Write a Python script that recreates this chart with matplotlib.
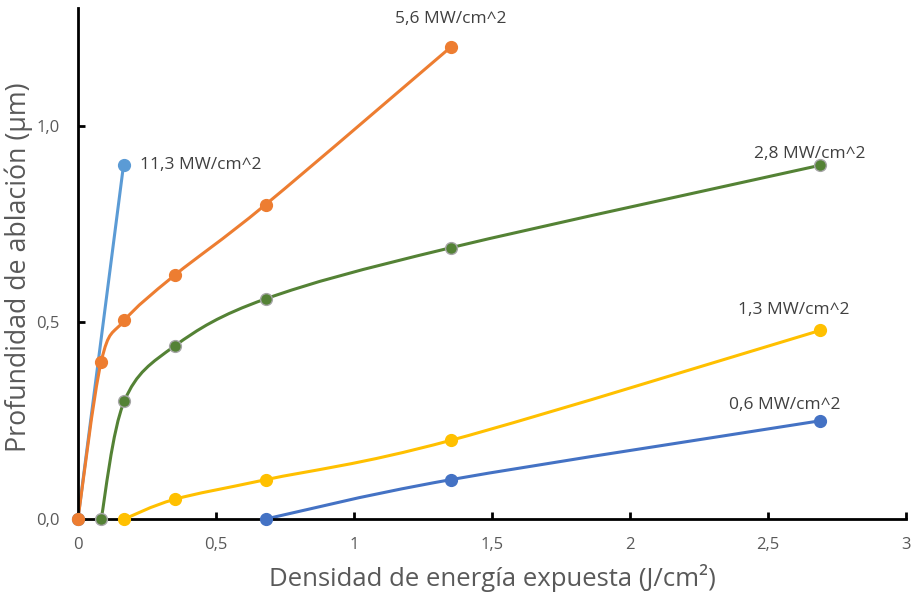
import numpy as np
import matplotlib
matplotlib.use("Agg")
import matplotlib.pyplot as plt
from matplotlib.path import Path
from matplotlib.patches import PathPatch
from matplotlib.ticker import FuncFormatter, MultipleLocator

plt.rcParams["font.family"] = ["Open Sans", "DejaVu Sans"]

# data (x: J/cm^2, y: um)
x_113 = [0.0, 0.165]
y_113 = [0.0, 0.90]

x_56 = [0.0, 0.084, 0.168, 0.35, 0.68, 1.35]
y_56 = [0.0, 0.40, 0.505, 0.62, 0.80, 1.20]

x_28 = [0.084, 0.168, 0.35, 0.68, 1.35, 2.69]
y_28 = [0.0, 0.30, 0.44, 0.56, 0.69, 0.90]

x_13 = [0.168, 0.35, 0.68, 1.35, 2.69]
y_13 = [0.0, 0.05, 0.10, 0.20, 0.48]

x_06 = [0.68, 1.35, 2.69]
y_06 = [0.0, 0.10, 0.25]

labels = ["11,3 MW/cm^2", "5,6 MW/cm^2", "2,8 MW/cm^2", "1,3 MW/cm^2", "0,6 MW/cm^2"]

series = [
    (x_113, y_113, "#5B9BD5", None, labels[0], (16, 0), "left"),
    (x_56, y_56, "#ED7D31", None, labels[1], (0, 28), "center"),
    (x_28, y_28, "#548235", "#A5A5A5", labels[2], (-11, 11), "center"),
    (x_13, y_13, "#FFC000", None, labels[3], (-27, 20), "center"),
    (x_06, y_06, "#4472C4", None, labels[4], (-36, 16), "center"),
]


def smooth_path(xs, ys):
    # Excel-like smoothed line: cubic bezier through the points
    p = np.column_stack([xs, ys])
    n = len(p)
    verts = [p[0]]
    codes = [Path.MOVETO]
    for i in range(n - 1):
        prev = p[i - 1] if i > 0 else p[i]
        nxt = p[i + 2] if i + 2 < n else p[i + 1]
        c1 = p[i] + (p[i + 1] - prev) / 6.0
        c2 = p[i + 1] - (nxt - p[i]) / 6.0
        verts += [c1, c2, p[i + 1]]
        codes += [Path.CURVE4] * 3
    return Path(verts, codes)


fig = plt.figure(figsize=(9.13, 5.95), dpi=100)
ax = fig.add_axes([0.0854, 0.1277, 0.9069, 0.8589])

for xs, ys, color, edge, label, offset, ha in series:
    ax.add_patch(PathPatch(smooth_path(xs, ys), facecolor="none", edgecolor=color,
                           linewidth=2.2, capstyle="round", zorder=2))
    ax.plot(xs, ys, linestyle="none", marker="o", markersize=8.5,
            markerfacecolor=color, markeredgecolor=edge if edge else color,
            markeredgewidth=1.0, zorder=3, clip_on=False)
    ax.annotate(label, (xs[-1], ys[-1]), xytext=offset, textcoords="offset pixels",
                ha=ha, va="center", fontsize=12.5, color="#404040")

ax.set_xlim(0, 3)
ax.set_ylim(0, 1.3)
ax.xaxis.set_major_locator(MultipleLocator(0.5))
ax.yaxis.set_major_locator(MultipleLocator(0.5))
ax.xaxis.set_major_formatter(FuncFormatter(lambda v, _: f"{v:g}".replace(".", ",")))
ax.yaxis.set_major_formatter(FuncFormatter(lambda v, _: f"{v:.1f}".replace(".", ",")))

for side in ["top", "right"]:
    ax.spines[side].set_visible(False)
for side in ["left", "bottom"]:
    ax.spines[side].set_linewidth(2)
    ax.spines[side].set_color("black")

ax.tick_params(direction="in", length=5, width=2, colors="black",
               labelcolor="#595959", labelsize=12, pad=13)

ax.set_xlabel("Densidad de energía expuesta (J/cm²)", fontsize=18.5, color="#595959")
ax.set_ylabel("Profundidad de ablación (µm)", fontsize=19.3, color="#595959")
ax.xaxis.set_label_coords(0.5, -0.088)
ax.yaxis.set_label_coords(-0.054, 0.492)

plt.savefig("out.png", dpi=100)
plt.close()
